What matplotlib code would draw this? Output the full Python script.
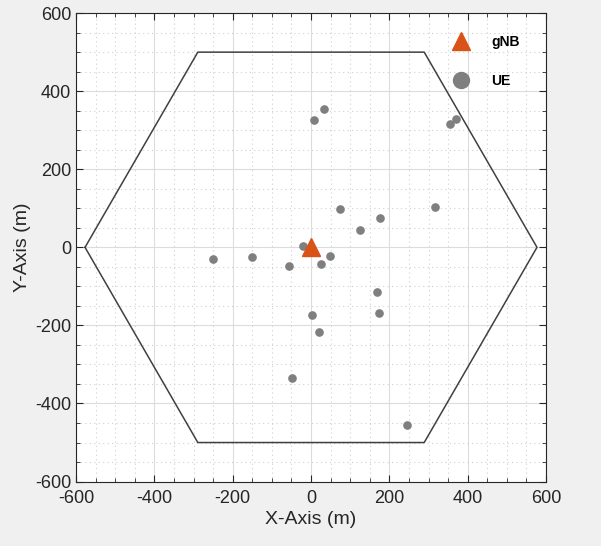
import matplotlib.pyplot as plt
from matplotlib.lines import Line2D
from matplotlib.ticker import MultipleLocator

# cell boundary (hexagon vertices, metres)
hex_x = [-577, -289, 289, 577, 289, -289, -577]
hex_y = [0, 500, 500, 0, -500, -500, 0]

# base station
gnb_x = [0]
gnb_y = [0]

# user equipment positions
ue_x = [-251, -151, -56, -21, 25, 48, 75, 125, 176, 317,
        8, 34, 355, 370, 168, 173, 3, 21, -49, 244]
ue_y = [-30, -26, -48, 3, -42, -23, 99, 45, 74, 103,
        325, 354, 317, 329, -115, -169, -174, -217, -335, -455]

plt.rcParams["font.family"] = ["Liberation Sans", "DejaVu Sans"]
plt.rcParams["axes.unicode_minus"] = False

fig = plt.figure(figsize=(6.01, 5.46), dpi=100, facecolor="#f0f0f0")
ax = fig.add_axes([0.1265, 0.118, 0.782, 0.858])

ax.plot(hex_x, hex_y, color="#404040", linewidth=1.1, zorder=2)
ax.plot(ue_x, ue_y, linestyle="none", marker="o", markersize=5.2,
        color="#7f7f7f", zorder=3)
ax.plot(gnb_x, gnb_y, linestyle="none", marker="^", markersize=12.5,
        color="#d95319", zorder=4)

ax.set_xlim(-600, 600)
ax.set_ylim(-600, 600)
ax.xaxis.set_major_locator(MultipleLocator(200))
ax.yaxis.set_major_locator(MultipleLocator(200))
ax.xaxis.set_minor_locator(MultipleLocator(50))
ax.yaxis.set_minor_locator(MultipleLocator(50))

ax.grid(which="major", color="#dcdcdc", linewidth=0.8, linestyle="-")
ax.grid(which="minor", color="#d0d0d0", linewidth=0.8, linestyle=(0, (1, 3)))
ax.set_axisbelow(True)

ax.tick_params(which="both", direction="in", top=True, right=True,
               colors="#262626", labelsize=13)
ax.tick_params(which="major", length=5)
ax.tick_params(which="minor", length=3)
ax.tick_params(axis="x", pad=6)
for s in ax.spines.values():
    s.set_color("#262626")
    s.set_linewidth(0.8)

ax.set_xlabel("X-Axis (m)", fontsize=14, color="#262626", labelpad=3)
ax.set_ylabel("Y-Axis (m)", fontsize=14, color="#262626", labelpad=3)

handles = [
    Line2D([], [], linestyle="none", marker="^", markersize=13, color="#d95319"),
    Line2D([], [], linestyle="none", marker="o", markersize=11.5, color="#7f7f7f"),
]
ax.legend(handles, ["gNB", "UE"], loc="upper right", frameon=False,
          bbox_to_anchor=(0.965, 0.975), prop={"weight": "bold", "size": 10},
          labelspacing=1.8, handletextpad=1.2, borderaxespad=0.3)

fig.savefig("out.png", dpi=100, facecolor=fig.get_facecolor())
